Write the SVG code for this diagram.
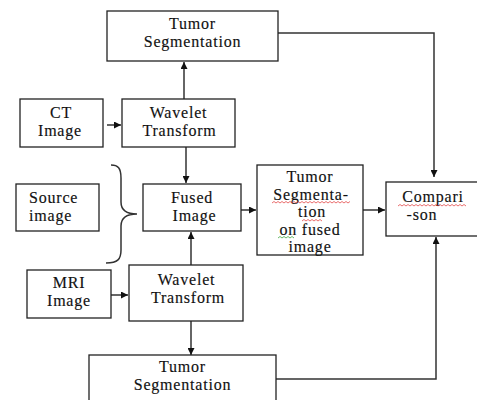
<svg xmlns="http://www.w3.org/2000/svg" width="477" height="400" viewBox="0 0 477 400">
<style>
.box{fill:#fff;stroke:#222;stroke-width:1.3}
.t{font-family:"Liberation Serif",serif;font-size:16px;letter-spacing:0.8px;fill:#111;stroke:#111;stroke-width:0.15;text-anchor:middle}
.s{text-anchor:start}
.c{fill:none;stroke:#333;stroke-width:1.5}
.w{fill:none;stroke:#e03030;stroke-width:0.7}
.g{fill:none;stroke:#2a9a2a;stroke-width:0.7}
</style>
<defs>
<marker id="a" viewBox="0 0 10 10" refX="10" refY="5" markerWidth="7" markerHeight="7" markerUnits="userSpaceOnUse" orient="auto"><path d="M0,0L10,5L0,10z" fill="#111"/></marker>
</defs>
<rect width="477" height="400" fill="#fff"/>
<g id="connectors">
<path class="c" d="M278,33H434V177" marker-end="url(#a)"/>
<path class="c" d="M184,99V62" marker-end="url(#a)"/>
<path class="c" d="M107,125H121" marker-end="url(#a)"/>
<path class="c" d="M186,147V183" marker-end="url(#a)"/>
<path class="c" d="M241,210H256" marker-end="url(#a)"/>
<path class="c" d="M363,210H385" marker-end="url(#a)"/>
<path class="c" d="M191,265V232" marker-end="url(#a)"/>
<path class="c" d="M111,295H128" marker-end="url(#a)"/>
<path class="c" d="M191,321V355" marker-end="url(#a)"/>
<path class="c" d="M276,379H436V237" marker-end="url(#a)"/>
<path class="c" d="M111,165C118,165 121,168 121,178V202C121,210 126,214 137,214C126,214 121,218 121,226V250C121,259 118,263 106,263" stroke-width="1.2"/>
</g>
<g id="tumor_top"><rect class="box" x="107" y="11" width="171" height="50"/><text class="t" x="192.5" y="29">Tumor</text><text class="t" x="192.5" y="47">Segmentation</text></g>
<g id="ct"><rect class="box" x="20" y="99" width="83" height="48"/><text class="t" x="61" y="118">CT</text><text class="t" x="60" y="136">Image</text></g>
<g id="wavelet1"><rect class="box" x="122" y="99" width="113" height="48"/><text class="t" x="178.5" y="118">Wavelet</text><text class="t" x="179.5" y="136">Transform</text></g>
<g id="source"><rect class="box" x="16" y="184" width="83" height="47"/><text class="t s" x="29" y="203">Source</text><text class="t s" x="29" y="221">image</text></g>
<g id="fused"><rect class="box" x="143" y="184" width="98" height="47"/><text class="t" x="192" y="203">Fused</text><text class="t" x="194.5" y="221">Image</text></g>
<g id="seg_fused"><rect class="box" x="257" y="165" width="106" height="90"/>
<text class="t" x="310" y="182">Tumor</text>
<text class="t" x="311" y="199.5">Segmenta-</text>
<text class="t" x="312" y="217">tion</text>
<text class="t" x="310" y="234.5">on fused</text>
<text class="t" x="310" y="252">image</text>
<path class="w" d="M272,203l2,-1.5 2,1.5 2,-1.5 2,1.5 2,-1.5 2,1.5 2,-1.5 2,1.5 2,-1.5 2,1.5 2,-1.5 2,1.5 2,-1.5 2,1.5 2,-1.5 2,1.5 2,-1.5 2,1.5 2,-1.5 2,1.5 2,-1.5 2,1.5 2,-1.5 2,1.5 2,-1.5 2,1.5 2,-1.5 2,1.5 2,-1.5 2,1.5 2,-1.5 2,1.5 2,-1.5 2,1.5 2,-1.5 2,1.5 2,-1.5 2,1.5 2,-1.5"/>
<path class="w" d="M302,221l2,-1.5 2,1.5 2,-1.5 2,1.5 2,-1.5 2,1.5 2,-1.5 2,1.5 2,-1.5 2,1.5"/>
<path class="g" d="M278,238l2,-1.5 2,1.5 2,-1.5 2,1.5 2,-1.5 2,1.5 2,-1.5 2,1.5"/>
</g>
<g id="comparison"><rect class="box" x="386" y="182" width="95" height="54"/><text class="t" x="433" y="202">Compari</text><text class="t" x="422" y="220">-son</text>
<path class="w" d="M398,206l2,-1.5 2,1.5 2,-1.5 2,1.5 2,-1.5 2,1.5 2,-1.5 2,1.5 2,-1.5 2,1.5 2,-1.5 2,1.5 2,-1.5 2,1.5 2,-1.5 2,1.5 2,-1.5 2,1.5 2,-1.5 2,1.5 2,-1.5 2,1.5 2,-1.5 2,1.5 2,-1.5 2,1.5 2,-1.5 2,1.5 2,-1.5 2,1.5 2,-1.5 2,1.5 2,-1.5 2,1.5"/>
</g>
<g id="mri"><rect class="box" x="27" y="270" width="84" height="48"/><text class="t" x="69" y="288">MRI</text><text class="t" x="69" y="306">Image</text></g>
<g id="wavelet2"><rect class="box" x="129" y="265" width="114" height="56"/><text class="t" x="186.5" y="285">Wavelet</text><text class="t" x="188" y="303">Transform</text></g>
<g id="tumor_bottom"><rect class="box" x="89" y="355" width="187" height="50"/><text class="t" x="182.5" y="372">Tumor</text><text class="t" x="182.5" y="390">Segmentation</text></g>
</svg>
